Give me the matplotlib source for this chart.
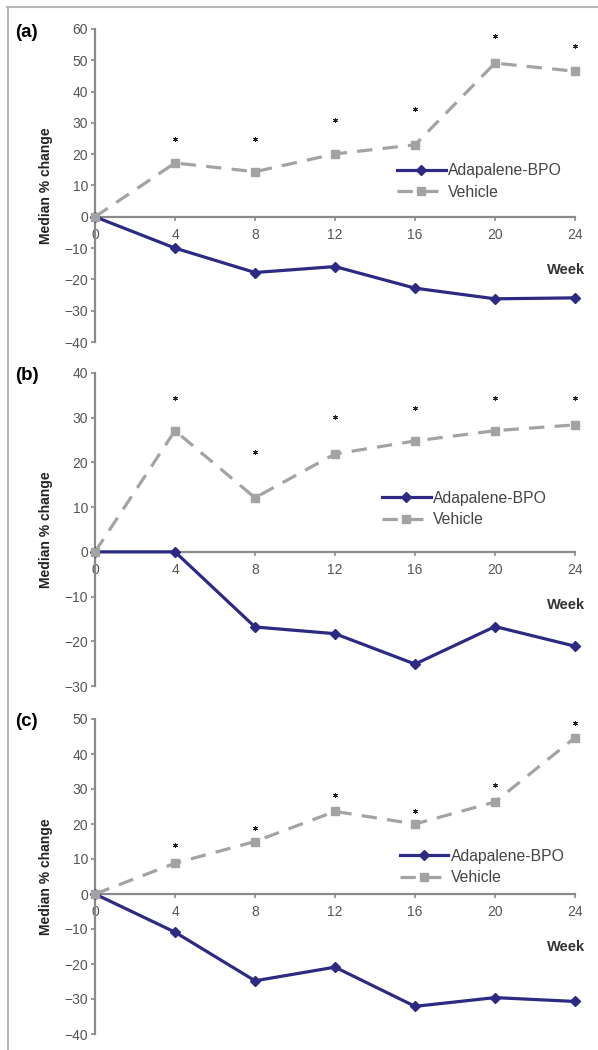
#%%
import matplotlib
matplotlib.use('Agg')
import matplotlib.pyplot as plt
from matplotlib.lines import Line2D

plt.rcParams['font.family'] = ['Liberation Sans', 'DejaVu Sans']

#%% Dados
weeks = [0, 4, 8, 12, 16, 20, 24]
star_weeks = [4, 8, 12, 16, 20, 24]

# (a)
adapalene_a = [0, -10.0, -17.8, -15.9, -22.8, -26.2, -25.9]
vehicle_a = [0, 17.2, 14.4, 20.1, 23.0, 49.1, 46.5]
stars_a = [25.0, 25.0, 31.0, 34.6, 57.7, 54.6]

# (b)
adapalene_b = [0, 0, -16.8, -18.3, -25.1, -16.7, -21.1]
vehicle_b = [0, 27.1, 12.1, 21.9, 24.8, 27.1, 28.4]
stars_b = [34.3, 22.3, 30.2, 32.2, 34.3, 34.3]

# (c)
adapalene_c = [0, -10.9, -24.8, -20.9, -32.1, -29.6, -30.7]
vehicle_c = [0, 8.8, 15.0, 23.6, 20.0, 26.3, 44.7]
stars_c = [14.1, 19.0, 28.2, 23.8, 31.2, 48.9]

panel_labels = ['(a)', '(b)', '(c)']
ylims = [(-40, 60), (-30, 40), (-40, 50)]
yticks = [range(-40, 61, 10), range(-30, 41, 10), range(-40, 51, 10)]
xticks = [0, 4, 8, 12, 16, 20, 24]

#%% Layout (pixels of 598x1050 figure)
W, H = 598, 1050
rects = [
    [95 / W, 1 - 342 / H, 480 / W, 313 / H],
    [95 / W, 1 - 686 / H, 480 / W, 313 / H],
    [95 / W, 1 - 1034 / H, 480 / W, 315 / H],
]
legend_anchor = [(0.629, 0.513), (0.598, 0.565), (0.635, 0.530)]

navy = '#2c2a82'
grey = '#a3a3a3'
axis_grey = '#8a8a8a'
tick_grey = '#555555'

fig = plt.figure(figsize=(W / 100, H / 100), dpi=100)

data = [
    (adapalene_a, vehicle_a, stars_a),
    (adapalene_b, vehicle_b, stars_b),
    (adapalene_c, vehicle_c, stars_c),
]

for i, (ada, veh, stars) in enumerate(data):
    ax = fig.add_axes(rects[i])

    ax.plot(weeks, ada, color=navy, lw=2.3, marker='D', ms=5,
            mfc=navy, mec=navy, label='Adapalene-BPO', clip_on=False, zorder=3)
    ax.plot(weeks, veh, color=grey, lw=2.3, ls=(0, (4.8, 3.2)), marker='s', ms=6,
            mfc=grey, mec=grey, label='Vehicle', clip_on=False, zorder=3)
    ax.plot(star_weeks, stars, ls='none', marker=(6, 2, 0), ms=3.6,
            mew=0.7, color='#222222', clip_on=False)

    ax.set_xlim(0, 24)
    ax.set_ylim(*ylims[i])
    ax.set_xticks(xticks)
    ax.set_yticks(list(yticks[i]))
    ax.set_yticklabels([str(v).replace('-', '\u2212') for v in yticks[i]])

    for s in ['top', 'right']:
        ax.spines[s].set_visible(False)
    ax.spines['bottom'].set_position(('data', 0))
    ax.spines['left'].set_position(('data', 0))
    for s in ['bottom', 'left']:
        ax.spines[s].set_color(axis_grey)
        ax.spines[s].set_linewidth(1.6)
    ax.patch.set_visible(False)

    ax.tick_params(axis='both', direction='out', length=3, width=1.2,
                   color=axis_grey, labelcolor=tick_grey, labelsize=10)
    ax.tick_params(axis='x', pad=5)
    ax.tick_params(axis='y', pad=2)

    ax.set_ylabel('Median % change', fontsize=10, fontweight='bold', color='#222222')
    ax.yaxis.set_label_coords(-0.088, 0.5)

    ax.annotate('Week', xy=(24, 0), xytext=(7, -38), textcoords='offset points',
                ha='right', va='center', fontsize=10.5, fontweight='bold', color='#333333')

    leg = ax.legend(loc='center left', bbox_to_anchor=legend_anchor[i], frameon=False,
                    fontsize=11.3, handlelength=3.1, handletextpad=0.15,
                    labelspacing=0.42, borderpad=0, borderaxespad=0)
    for t in leg.get_texts():
        t.set_color('#444444')

    top_px = (1 - rects[i][1] - rects[i][3]) * H
    fig.text(15 / W, 1 - (top_px + 3) / H, panel_labels[i],
             fontsize=13.5, fontweight='bold', ha='left', va='center')

# moldura cinza (topo e esquerda)
fig.add_artist(Line2D([7 / W, 1], [1 - 7 / H, 1 - 7 / H], transform=fig.transFigure,
                      color='#b8b8b8', lw=1.5))
fig.add_artist(Line2D([8 / W, 8 / W], [0, 1 - 7 / H], transform=fig.transFigure,
                      color='#b8b8b8', lw=1.5))

fig.savefig('out.png', dpi=100)
